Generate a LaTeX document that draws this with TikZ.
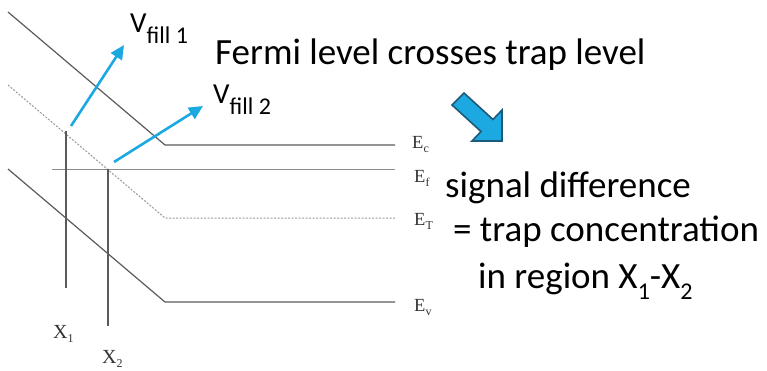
\documentclass[tikz,border=0pt]{standalone}
\usepackage{fontspec}
\setmainfont{Carlito}
\newfontfamily\timesf{Liberation Serif}
\usetikzlibrary{arrows.meta}
\definecolor{skyb}{HTML}{1CA8E0}
\definecolor{darkb}{HTML}{1C5A78}
\definecolor{lineg}{HTML}{5A5A5A}
\tikzset{
  band/.style={draw=lineg, line width=1.2pt},
  trapl/.style={draw=gray!80, line width=1pt, dash pattern=on 2pt off 1.5pt},
  fermil/.style={draw=gray!90, line width=1pt},
  vline/.style={draw=lineg, line width=1.1pt},
  fillarrow/.style={draw=skyb, line width=2.6pt, -{Triangle[length=14pt,width=13pt]}},
  bigtxt/.style={anchor=base west, inner sep=0pt, font=\fontsize{37}{40}\selectfont},
  vtxt/.style={anchor=base west, inner sep=0pt, font=\fontsize{29}{32}\selectfont},
  elab/.style={anchor=base west, inner sep=0pt, font=\timesf\fontsize{18.5}{20}\selectfont, text=black!80},
}
\newcommand{\subsm}[1]{{\fontsize{24}{26}\selectfont\raisebox{-11pt}{#1}}}
\newcommand{\ssub}[1]{{\fontsize{24}{26}\selectfont\raisebox{-11pt}{#1}}}
\newcommand{\tsub}[1]{{\fontsize{12}{13}\selectfont\raisebox{-4pt}{#1}}}
\begin{document}
\begin{tikzpicture}[x=1pt,y=-1pt]
\useasboundingbox (0,0) rectangle (767,370);
% band lines
\coordinate (c0) at (8,12); \coordinate (c1) at (165,145); \coordinate (c2) at (395,145);
\coordinate (t0) at (8,85); \coordinate (t1) at (165,218); \coordinate (t2) at (395,218);
\coordinate (v0) at (8,169); \coordinate (v1) at (165,302); \coordinate (v2) at (395,302);
\coordinate (f0) at (52,169); \coordinate (f1) at (395,169);
\coordinate (x1a) at (66,131); \coordinate (x1b) at (66,288);
\coordinate (x2a) at (108,169); \coordinate (x2b) at (108,326);
\draw[band] (c0) -- (c1) -- (c2);
\draw[trapl] (t0) -- (t1) -- (t2);
\draw[band] (v0) -- (v1) -- (v2);
\draw[fermil] (f0) -- (f1);
\draw[vline] (x1a) -- (x1b);
\draw[vline] (x2a) -- (x2b);
% labels
\node[elab] (ec) at (412,148) {E\tsub{c}};
\node[elab] (ef) at (414,182.5) {E\tsub{f}};
\node[elab] (et) at (414,225) {E\tsub{T}};
\node[elab] (ev) at (414,311) {E\tsub{v}};
\node[elab, font=\timesf\fontsize{20}{22}\selectfont] (x1) at (53,338) {X\tsub{1}};
\node[elab, font=\timesf\fontsize{20}{22}\selectfont] (x2) at (102,363) {X\tsub{2}};
% fill arrows
\coordinate (a1s) at (71,126); \coordinate (a1e) at (124,45);
\coordinate (a2s) at (114,162); \coordinate (a2e) at (203,106);
\draw[fillarrow] (a1s) -- (a1e);
\draw[fillarrow] (a2s) -- (a2e);
\node[vtxt] (vf1) at (130,32) {V\ssub{fill 1}};
\node[vtxt] (vf2) at (213,103) {V\ssub{fill 2}};
% text
\node[bigtxt] (fermi) at (215,64) {Fermi level crosses trap level};
\node[bigtxt] (sig) at (445,197) {signal difference};
\node[bigtxt] (eqt) at (453,241) {= trap concentration};
\node[bigtxt] (reg) at (478,288) {in region X\subsm{1}-X\subsm{2}};
% block arrow
\filldraw[fill=skyb, draw=darkb, line width=1.6pt, line join=miter]
  (452,105) -- (464,93) -- (493,119.5) -- (502,110) -- (502,141) -- (472,141) -- (481,131.5) -- cycle;
\end{tikzpicture}
\end{document}
